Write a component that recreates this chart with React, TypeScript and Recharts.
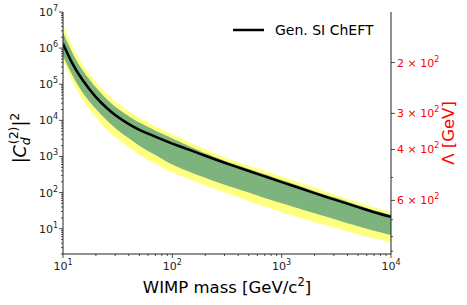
import React from "react";
import { ComposedChart, Area, Line, XAxis, YAxis, Legend } from "recharts";

// WIMP mass [GeV/c^2]
const massGeV = [10, 12, 15, 20, 25, 30, 40, 50, 60, 80, 100, 150, 200, 300, 500, 700, 1000, 2000, 3000, 5000, 7000, 10000];
// |C_d^(2)|^2 limit (black line)
const cheftLimit = [1.32e6, 4.1e5, 1.35e5, 4.4e4, 2.24e4, 1.41e4, 7.9e3, 5.5e3, 4.3e3, 2.97e3, 2.27e3, 1.45e3, 1.05e3, 673, 398, 282, 196, 97, 65, 39.6, 28.7, 21.3];
// 1 sigma band (green)
const sigma1Low = [6.1e5, 1.94e5, 6.1e4, 2.06e4, 1.02e4, 6.2e3, 3.2e3, 2.0e3, 1.42e3, 870, 600, 355, 258, 165, 101, 71, 51, 26.9, 18.7, 11.7, 8.8, 6.7];
const sigma1High = [2.67e6, 8.2e5, 2.5e5, 8.1e4, 3.9e4, 2.4e4, 1.31e4, 8.7e3, 6.6e3, 4.3e3, 3.16e3, 1.81e3, 1.23e3, 766, 453, 321, 223, 110, 74, 45, 32.7, 24.2];
// 2 sigma band (yellow)
const sigma2Low = [4.45e5, 1.32e5, 3.9e4, 1.23e4, 5.7e3, 3.45e3, 1.8e3, 1.12e3, 800, 505, 359, 220, 160, 102, 58, 41, 28.8, 15.1, 10.9, 7.0, 5.4, 4.3];
const sigma2High = [4.2e6, 1.24e6, 3.66e5, 1.16e5, 5.6e4, 3.35e4, 1.8e4, 1.19e4, 8.8e3, 5.7e3, 4.1e3, 2.34e3, 1.6e3, 957, 566, 401, 279, 138, 90, 54.5, 39.5, 29.3];

// axis ticks
const xTicks = [10, 20, 30, 40, 50, 60, 70, 80, 90, 100, 200, 300, 400, 500, 600, 700, 800, 900, 1000, 2000, 3000, 4000, 5000, 6000, 7000, 8000, 9000, 10000];
const yTicks = [
  2, 3, 4, 5, 6, 7, 8, 9, 10, 20, 30, 40, 50, 60, 70, 80, 90, 100, 200, 300, 400, 500, 600, 700, 800, 900,
  1e3, 2e3, 3e3, 4e3, 5e3, 6e3, 7e3, 8e3, 9e3, 1e4, 2e4, 3e4, 4e4, 5e4, 6e4, 7e4, 8e4, 9e4,
  1e5, 2e5, 3e5, 4e5, 5e5, 6e5, 7e5, 8e5, 9e5, 1e6, 2e6, 3e6, 4e6, 5e6, 6e6, 7e6, 8e6, 9e6, 1e7,
];
const lambdaTicks = [200, 300, 400, 500, 600, 700, 800, 900];
const lambdaLabeled = [200, 300, 400, 600];

// secondary axis: |C|^2 = 4e5 * (200 / Lambda)^8
const lambdaToC2 = (l: number) => 4e5 * Math.pow(200 / l, 8);
const c2ToLambda = (c: number) => 200 * Math.pow(4e5 / c, 1 / 8);

const data = massGeV.map((m, i) => ({
  m,
  limit: cheftLimit[i],
  band1: [sigma1Low[i], sigma1High[i]],
  band2: [sigma2Low[i], sigma2High[i]],
}));

const AXIS = "#222";
const isMajor = (v: number) => {
  const e = Math.log10(v);
  return Math.abs(e - Math.round(e)) < 1e-6;
};

const XTick = (props: any) => {
  const { x, y, payload } = props;
  const major = isMajor(payload.value);
  return (
    <g>
      <line x1={x} x2={x} y1={y} y2={y + (major ? 4 : 2)} stroke={AXIS} strokeWidth={0.8} />
      {major && (
        <text x={x} y={y + 16} textAnchor="middle" fontSize={11} fill={AXIS}>
          10<tspan dy={-5} fontSize={8}>{Math.round(Math.log10(payload.value))}</tspan>
        </text>
      )}
    </g>
  );
};

const LeftTick = (props: any) => {
  const { x, y, payload } = props;
  const major = isMajor(payload.value);
  return (
    <g>
      <line x1={x - (major ? 4 : 2)} x2={x} y1={y} y2={y} stroke={AXIS} strokeWidth={0.8} />
      {major && (
        <text x={x - 5} y={y + 4} textAnchor="end" fontSize={11} fill={AXIS}>
          10<tspan dy={-5} fontSize={8}>{Math.round(Math.log10(payload.value))}</tspan>
        </text>
      )}
    </g>
  );
};

const RightTick = (props: any) => {
  const { x, y, payload } = props;
  const l = Math.round(c2ToLambda(payload.value));
  const labeled = lambdaLabeled.includes(l);
  return (
    <g>
      <line x1={x} x2={x + (labeled ? 4 : 2)} y1={y} y2={y} stroke={AXIS} strokeWidth={0.8} />
      {labeled && (
        <text x={x + 6} y={y + 4} textAnchor="start" fontSize={11} fill="red">
          {l / 100} × 10<tspan dy={-5} fontSize={8}>2</tspan>
        </text>
      )}
    </g>
  );
};

const XLabel = () => (
  <text x={227} y={293} textAnchor="middle" fontSize={16.5} fill="#000">
    WIMP mass [GeV/c<tspan dy={-7} fontSize={11.5}>2</tspan><tspan dy={7}>]</tspan>
  </text>
);

const LeftLabel = () => (
  <text transform="translate(26,138) rotate(-90)" textAnchor="middle" fontSize={17.5} fill="#000">
    |<tspan fontStyle="italic">C</tspan>
    <tspan fontStyle="italic" fontSize={12.5} dy={4}>d</tspan>
    <tspan fontSize={12.5} dx={-7} dy={-12}>(2)</tspan>
    <tspan dy={8}>|</tspan>
    <tspan fontSize={12.5} dy={-7}>2</tspan>
  </text>
);

const RightLabel = () => (
  <text transform="translate(454,133) rotate(-90)" textAnchor="middle" fontSize={16.5} fill="red">
    Λ [GeV]
  </text>
);

const LegendBox = () => (
  <svg width={160} height={22}>
    <line x1={5} x2={36} y1={10} y2={10} stroke="#000" strokeWidth={2.5} />
    <text x={47} y={15} fontSize={14} fill="#000" fontFamily="DejaVu Sans">
      Gen. SI ChEFT
    </text>
  </svg>
);

export default function App() {
  return (
    <div style={{ position: "absolute", left: 0, top: 0, fontFamily: "DejaVu Sans", background: "#fff" }}>
      <ComposedChart width={467} height={305} data={data} margin={{ top: 12, right: 0, bottom: 0, left: 0 }}>
        <XAxis
          dataKey="m"
          type="number"
          scale="log"
          domain={[10, 10000]}
          allowDataOverflow
          ticks={xTicks}
          interval={0}
          tickSize={0}
          tickMargin={0}
          tick={<XTick />}
          height={51}
          stroke={AXIS}
          label={<XLabel />}
        />
        <XAxis xAxisId="top" orientation="top" type="number" scale="log" domain={[10, 10000]} allowDataOverflow tick={false} tickLine={false} height={0} stroke={AXIS} />
        <YAxis
          yAxisId="left"
          type="number"
          scale="log"
          domain={[2, 1e7]}
          allowDataOverflow
          ticks={yTicks}
          interval={0}
          tickSize={0}
          tickMargin={0}
          tick={<LeftTick />}
          width={63}
          stroke={AXIS}
          label={<LeftLabel />}
        />
        <YAxis
          yAxisId="right"
          orientation="right"
          type="number"
          scale="log"
          domain={[2, 1e7]}
          allowDataOverflow
          ticks={lambdaTicks.map(lambdaToC2)}
          interval={0}
          tickSize={0}
          tickMargin={0}
          tick={<RightTick />}
          width={76}
          stroke={AXIS}
          label={<RightLabel />}
        />
        <Area yAxisId="left" type="natural" dataKey="band2" fill="#ffff80" fillOpacity={1} stroke="none" isAnimationActive={false} legendType="none" />
        <Area yAxisId="left" type="natural" dataKey="band1" fill="#7db37d" fillOpacity={1} stroke="none" isAnimationActive={false} legendType="none" />
        <Line yAxisId="left" type="natural" dataKey="limit" name="Gen. SI ChEFT" stroke="#000" strokeWidth={2.5} dot={false} isAnimationActive={false} />
        <Legend layout="vertical" verticalAlign="middle" align="center" content={<LegendBox />} wrapperStyle={{ left: 228, top: 20, width: 160 }} />
      </ComposedChart>
    </div>
  );
}
